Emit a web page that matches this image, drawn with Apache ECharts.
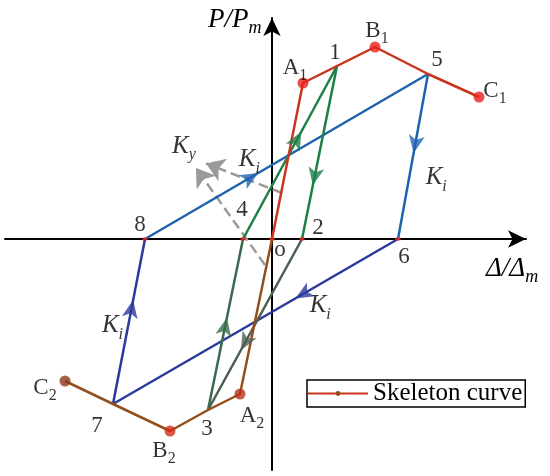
<!DOCTYPE html>
<html>
<head>
<meta charset="utf-8">
<script src="https://cdn.jsdelivr.net/npm/echarts@6/dist/echarts.min.js"></script>
<style>
  html, body { margin: 0; padding: 0; background: #fff; }
  #main { width: 550px; height: 476px; }
</style>
</head>
<body>
<div id="main"></div>
<script>
// characteristic points of the hysteresis model (Δ/Δm, P/Pm)
const pointNames = ['O', 'A1', '1', 'B1', '5', 'C1', '2', '6', '8', '4', '7', 'C2', 'B2', '3', 'A2']
const pointX = [0, 0.31, 0.65, 1.03, 1.56, 2.07, 0.30, 1.26, -1.27, -0.29, -1.59, -2.07, -1.02, -0.64, -0.32]
const pointY = [0, 1.56, 1.73, 1.92, 1.65, 1.42, 0, 0, 0, 0, -1.65, -1.42, -1.92, -1.71, -1.55]

const skeletonUp = ['O', 'A1', '1', 'B1', '5', 'C1']
const skeletonDown = ['O', 'A2', '3', 'B2', '7', 'C2']
const loopPath = ['8', '5', '6', '7', '8']
const greenPath = ['3', '4', '1', '2', '3']
const zeroPoints = ['8', '4', 'O', '2', '6']

// dashed arrows pointing at Ky
const kyFromX = [0.10, -0.07]
const kyFromY = [0.46, -0.26]
const kyToX = [-0.66, -0.76]
const kyToY = [0.755, 0.71]

const legendName = 'Skeleton curve'

// ---- styles ----
const SERIF = 'Liberation Serif'
const RED = '#e8201c'
const BROWN = '#93501c'
const markerColor = { A1: RED, B1: RED, C1: RED, A2: '#b8321a', B2: '#d22a1a', C2: '#8e3a1a' }
const labelOffset = {
  O: [8, 11], A1: [-8, -15], 1: [-2, -13], B1: [2, -16], 5: [9, -14], C1: [16, -6],
  2: [16, -11], 6: [6, 18], 8: [-5, -14], 4: [-1, -29],
  7: [-16, 22], C2: [-20, 7], B2: [-6, 20], 3: [-1, 19], A2: [12, 22]
}
const loopColors = ['#1f63b0', '#1f63b0', '#2b3a9c', '#2b3a9c']
const loopArrowAt = [0.40, 0.48, 0.36, 0.63]
const loopKiOffset = [[-1, -18], [21, 33], [17, 12], [-19, 17]]
const greenColors = ['#3a6a4e', '#1d8048', '#1d8048', '#4d5e52']
const greenArrowAt = [0.54, 0.62, 0.69, 0.65]

const P = {}
pointNames.forEach((n, i) => { P[n] = [pointX[i], pointY[i]] })

const rich = {
  b: { fontFamily: SERIF, fontSize: 23, color: '#000', lineHeight: 32 },
  s: { fontFamily: SERIF, fontSize: 16, color: '#000', verticalAlign: 'bottom' },
  k: { fontFamily: SERIF, fontStyle: 'italic', fontSize: 25, color: '#000', lineHeight: 34 },
  ks: { fontFamily: SERIF, fontStyle: 'italic', fontSize: 16, color: '#000', verticalAlign: 'bottom' }
}

function pointLabel(name) {
  if (name === 'O') return '{b|o}'
  if (name.length > 1) return '{b|' + name[0] + '}{s|' + name.slice(1) + '}'
  return '{b|' + name + '}'
}

function segSeries(a, b, color) {
  return {
    type: 'line',
    data: [P[a], P[b]],
    symbol: 'none',
    lineStyle: { color: color, width: 2.5 },
    z: 2,
    silent: true
  }
}

function midArrow(a, b, t, color, ki) {
  const dx = P[b][0] - P[a][0]
  const dy = P[b][1] - P[a][1]
  const item = {
    value: [P[a][0] + t * dx, P[a][1] + t * dy],
    symbolRotate: Math.atan2(dy, dx) * 180 / Math.PI - 90,
    itemStyle: { color: color }
  }
  if (ki) {
    item.label = { show: true, position: 'inside', offset: ki, formatter: '{k|K}{ks|i}', rich: rich }
  }
  return item
}

const series = []

series.push({
  name: legendName,
  type: 'line',
  data: skeletonUp.map(n => P[n]),
  symbol: 'circle',
  showSymbol: false,
  symbolSize: 6,
  lineStyle: { color: '#c8341c', width: 2.5 },
  itemStyle: { color: BROWN },
  z: 3
})
series.push({
  name: legendName,
  type: 'line',
  data: skeletonDown.map(n => P[n]),
  symbol: 'none',
  lineStyle: { color: BROWN, width: 2.5 },
  itemStyle: { color: BROWN },
  z: 3
})

const arrows = []
for (let i = 0; i < loopPath.length - 1; i++) {
  series.push(segSeries(loopPath[i], loopPath[i + 1], loopColors[i]))
  arrows.push(midArrow(loopPath[i], loopPath[i + 1], loopArrowAt[i], loopColors[i], loopKiOffset[i]))
}
for (let i = 0; i < greenPath.length - 1; i++) {
  series.push(segSeries(greenPath[i], greenPath[i + 1], greenColors[i]))
  arrows.push(midArrow(greenPath[i], greenPath[i + 1], greenArrowAt[i], greenColors[i], null))
}

series.push({
  type: 'scatter',
  data: arrows,
  symbol: 'arrow',
  symbolSize: [12, 18],
  z: 4,
  silent: true
})

// dashed arrows to Ky
series.push({
  type: 'lines',
  coordinateSystem: 'cartesian2d',
  data: kyFromX.map((x, i) => ({ coords: [[x, kyFromY[i]], [kyToX[i], kyToY[i]]] })),
  symbol: ['none', 'arrow'],
  symbolSize: 18,
  lineStyle: { color: '#9a9a9a', width: 2.5, type: 'dashed', opacity: 1 },
  z: 2,
  silent: true
})
series.push({
  type: 'scatter',
  data: [{
    value: [kyToX[1], kyToY[1]],
    label: { show: true, position: 'inside', offset: [-12, -22], formatter: '{k|K}{ks|y}', rich: rich }
  }],
  symbolSize: 1,
  itemStyle: { color: 'rgba(0,0,0,0)' },
  z: 5,
  silent: true
})

// small red ticks where the loops cross the axis
series.push({
  type: 'scatter',
  data: zeroPoints.map(n => P[n]),
  symbol: 'rect',
  symbolSize: [5, 3],
  itemStyle: { color: RED },
  z: 5,
  silent: true
})

// skeleton markers and point names
series.push({
  type: 'scatter',
  data: pointNames.map(n => ({
    value: P[n],
    symbolSize: markerColor[n] ? 11 : 1,
    itemStyle: { color: markerColor[n] || 'rgba(0,0,0,0)' },
    label: { show: true, position: 'inside', offset: labelOffset[n], formatter: pointLabel(n), rich: rich }
  })),
  symbol: 'circle',
  z: 6,
  silent: true
})

const chart = echarts.init(document.getElementById('main'))
chart.setOption({
  backgroundColor: '#fff',
  animation: false,
  grid: { left: 5, right: 24, top: 18, bottom: 6 },
  xAxis: {
    type: 'value',
    min: -2.67,
    max: 2.54,
    axisLine: { onZero: true, lineStyle: { color: '#000', width: 2 }, symbol: ['none', 'arrow'], symbolSize: [13, 18] },
    axisTick: { show: false },
    axisLabel: { show: false },
    splitLine: { show: false }
  },
  yAxis: {
    type: 'value',
    min: -2.31,
    max: 2.21,
    axisLine: { onZero: true, lineStyle: { color: '#000', width: 2 }, symbol: ['none', 'arrow'], symbolSize: [13, 18] },
    axisTick: { show: false },
    axisLabel: { show: false },
    splitLine: { show: false }
  },
  legend: {
    data: [legendName],
    left: 307,
    top: 380,
    orient: 'horizontal',
    borderColor: '#000',
    borderWidth: 1.5,
    borderRadius: 0,
    padding: [1, 3, 1, 0],
    itemWidth: 60,
    itemHeight: 6,
    itemGap: 6,
    selectedMode: false,
    textStyle: { fontFamily: SERIF, fontSize: 25, color: '#000' }
  },
  graphic: [
    {
      type: 'text', left: 208, top: 6,
      style: {
        text: '{v|P/P}{s|m}',
        rich: {
          v: { fontFamily: SERIF, fontStyle: 'italic', fontSize: 27, color: '#000', lineHeight: 36 },
          s: { fontFamily: SERIF, fontStyle: 'italic', fontSize: 18, color: '#000', verticalAlign: 'bottom' }
        }
      }
    },
    {
      type: 'text', left: 486, top: 255,
      style: {
        text: '{v|Δ/Δ}{s|m}',
        rich: {
          v: { fontFamily: SERIF, fontStyle: 'italic', fontSize: 27, color: '#000', lineHeight: 36 },
          s: { fontFamily: SERIF, fontStyle: 'italic', fontSize: 18, color: '#000', verticalAlign: 'bottom' }
        }
      }
    }
  ],
  series: series
})
</script>
</body>
</html>
